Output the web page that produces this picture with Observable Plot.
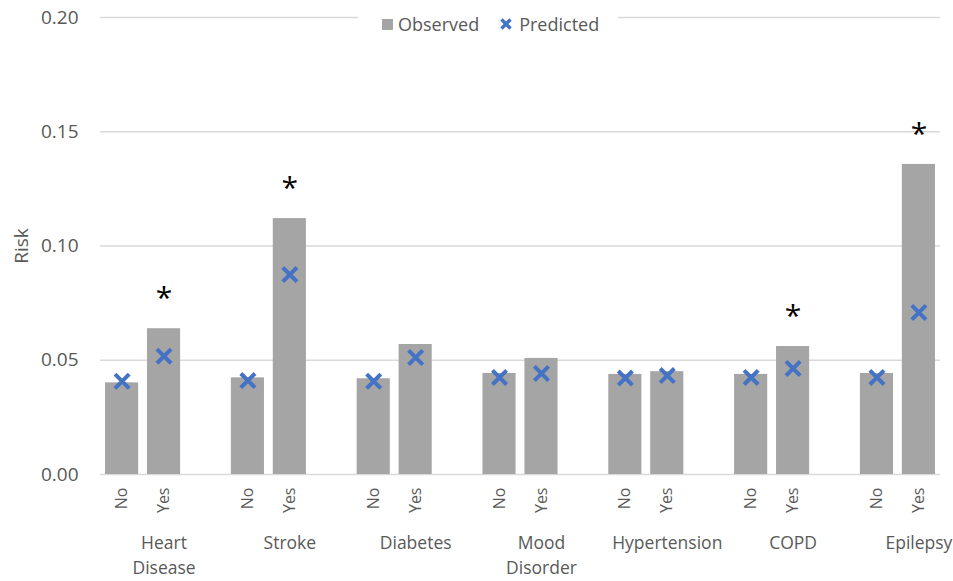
<!DOCTYPE html>
<html><head><meta charset="utf-8">
<script src="https://cdn.jsdelivr.net/npm/d3@7"></script>
<script src="https://cdn.jsdelivr.net/npm/@observablehq/plot@0.6"></script>
<style>
body{margin:0;background:#fff;font-family:"Open Sans",sans-serif;}
#wrap{position:relative;width:953px;height:581px;}
#legend{position:absolute;left:358px;top:7px;width:236px;height:34px;padding-left:24px;background:#fff;display:flex;align-items:center;font-size:18px;color:#595959;}
#legend .sw{display:inline-block;width:11px;height:11px;background:#a5a5a5;margin-right:5px;}
#legend .obs{margin-right:21px;}
#legend svg{margin-right:7px;}
</style></head><body><div id="wrap"></div>
<script>
const conditions = ["Heart Disease","Stroke","Diabetes","Mood Disorder","Hypertension","COPD","Epilepsy"];
const groupLabels = ["Heart\nDisease","Stroke","Diabetes","Mood\nDisorder","Hypertension","COPD","Epilepsy"];
const statuses = ["No","Yes"];
const observedNo = [0.0401,0.0423,0.0419,0.0442,0.0438,0.0438,0.0442];
const observedYes = [0.0638,0.1120,0.0569,0.0508,0.0450,0.0560,0.1357];
const predictedNo = [0.0408,0.0411,0.0408,0.0425,0.0422,0.0425,0.0425];
const predictedYes = [0.0518,0.0875,0.0512,0.0442,0.0433,0.0464,0.0709];
const significant = [true,true,false,false,false,true,true];
const yTicks = [0,0.05,0.10,0.15,0.20];

const xDomain = [];
const rows = [];
conditions.forEach((c, i) => {
  statuses.forEach(s => {
    const key = c + "|" + s;
    xDomain.push(key);
    rows.push({key, condition: c, status: s,
      observed: s === "No" ? observedNo[i] : observedYes[i],
      predicted: s === "No" ? predictedNo[i] : predictedYes[i],
      sig: s === "Yes" && significant[i]});
  });
  if (i < conditions.length - 1) xDomain.push("gap" + i);
});
const groups = conditions.map((c, i) => ({key: c + "|Yes", label: groupLabels[i]}));

const plot = Plot.plot({
  width: 953, height: 581,
  marginLeft: 100, marginRight: 13, marginTop: 17, marginBottom: 107,
  style: {fontFamily: '"Open Sans", sans-serif', color: "#595959", background: "#fff"},
  x: {type: "band", domain: xDomain, paddingInner: 0.21, paddingOuter: 0.12, round: false},
  y: {domain: [0, 0.2]},
  marks: [
    Plot.ruleY(yTicks, {stroke: "#d9d9d9", strokeWidth: 1.5}),
    Plot.barY(rows, {x: "key", y: "observed", fill: "#a5a5a5"}),
    Plot.dot(rows, {x: "key", y: "predicted", symbol: "times", r: 6.5, stroke: "#4472C4", strokeWidth: 4}),
    Plot.text(rows.filter(d => d.sig), {x: "key", y: "observed", text: () => "*", dy: -30, fontSize: 30, fill: "#000"}),
    Plot.axisY({ticks: yTicks, tickFormat: ".2f", tickSize: 0, tickPadding: 22, fontSize: 19, label: "Risk", labelAnchor: "center", labelOffset: 86, labelArrow: "none"}),
    Plot.axisX({tickRotate: -90, tickSize: 0, tickPadding: 13, fontSize: 16, tickFormat: k => k.includes("|") ? k.split("|")[1] : "", label: null}),
    Plot.text(groups, {x: "key", text: "label", frameAnchor: "bottom", dy: 56, lineAnchor: "top", fontSize: 17.5, lineHeight: 1.45, fill: "#595959"})
  ]
});
const wrap = document.getElementById("wrap");
wrap.appendChild(plot);
const legend = document.createElement("div");
legend.id = "legend";
legend.innerHTML = '<span class="sw"></span><span class="obs">Observed</span><svg width="12" height="12"><path d="M1.5,1.5L10.5,10.5M10.5,1.5L1.5,10.5" stroke="#4472C4" stroke-width="3.5"/></svg><span>Predicted</span>';
wrap.appendChild(legend);
</script></body></html>
